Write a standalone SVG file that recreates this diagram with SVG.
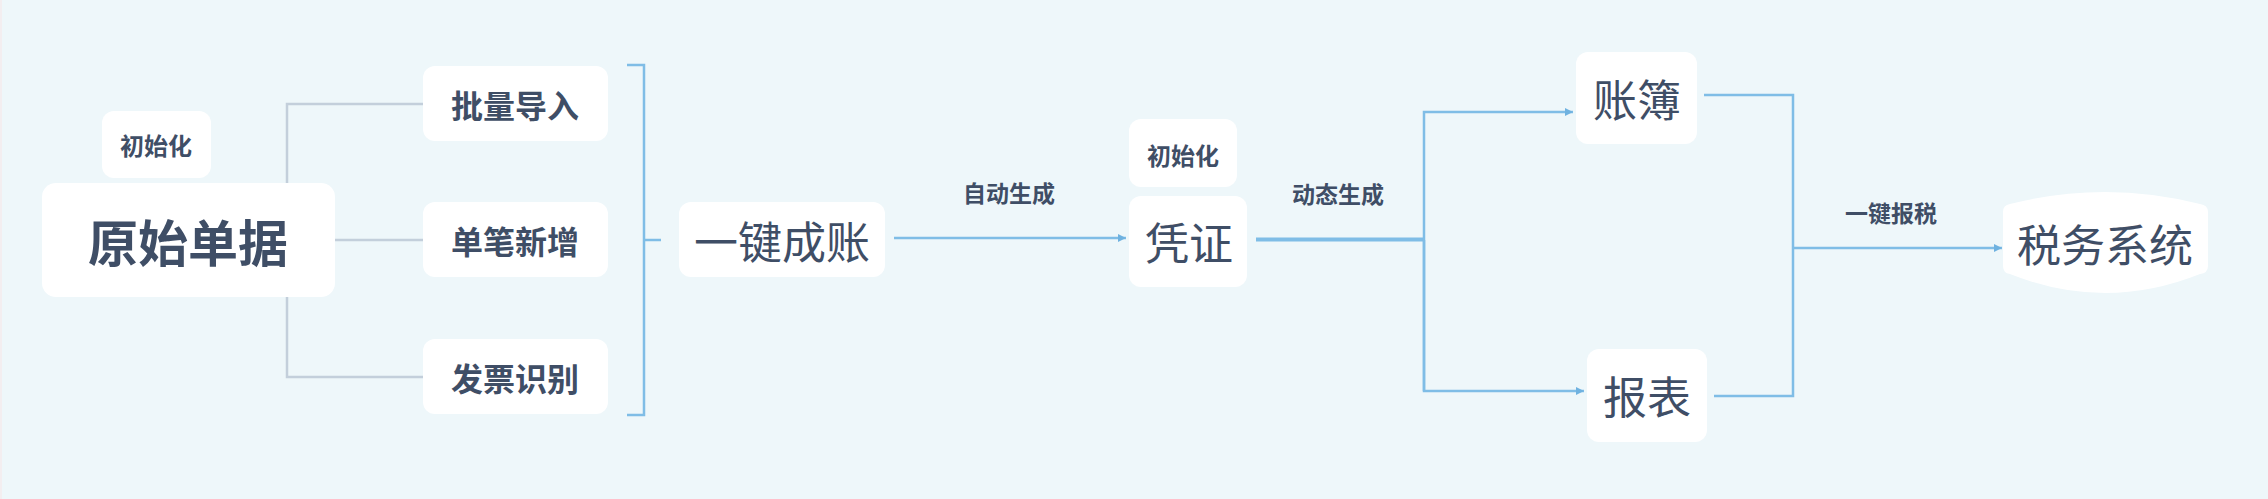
<svg xmlns="http://www.w3.org/2000/svg" width="2268" height="499" viewBox="0 0 2268 499">
<defs>
<style>
.node{fill:#ffffff;}
.t{font-family:"Noto Sans CJK SC","Noto Sans",sans-serif;fill:#3f4e66;text-anchor:middle;dominant-baseline:central;}
.b{font-weight:bold;}
.gray{fill:none;stroke:#c3cfdb;stroke-width:2.5;}
.blue{fill:none;stroke:#7fbde6;stroke-width:2.5;}
.thick{fill:none;stroke:#7fbde6;stroke-width:4;}
</style>
<marker id="arr" markerUnits="userSpaceOnUse" markerWidth="10" markerHeight="10" refX="9" refY="5" orient="auto">
<path d="M1,1 L9,5 L1,9 Z" fill="#6fb2e0"/>
</marker>
</defs>
<rect x="0" y="0" width="2268" height="499" fill="#eef7fa"/>
<rect x="0" y="0" width="2" height="499" fill="#f3eef0"/>
<g id="connectors">
<path class="gray" d="M287,183 V104 H423"/>
<path class="gray" d="M335,240 H423"/>
<path class="gray" d="M287,297 V377 H423"/>
<path class="blue" d="M627,65 H644 V415 H627"/>
<path class="blue" d="M644,240 H661"/>
<path class="blue" d="M894,238 H1126" marker-end="url(#arr)"/>
<path class="thick" d="M1256,239.5 H1424"/>
<path class="blue" d="M1424,391 V112 H1573" marker-end="url(#arr)"/>
<path class="blue" d="M1424,240 V391 H1584" marker-end="url(#arr)"/>
<path class="blue" d="M1704,95 H1793 V396 H1714"/>
<path class="blue" d="M1793,248 H2002" marker-end="url(#arr)"/>
</g>
<g id="label-auto"><text class="t b" x="1009" y="192" font-size="23">自动生成</text></g>
<g id="label-dynamic"><text class="t b" x="1338" y="193" font-size="23">动态生成</text></g>
<g id="label-tax"><text class="t b" x="1891" y="212" font-size="23">一键报税</text></g>
<g id="node-init1">
<rect class="node" x="102" y="111" width="109" height="67" rx="12"/>
<text class="t b" x="156" y="144" font-size="24">初始化</text>
</g>
<g id="node-source">
<rect class="node" x="42" y="183" width="293" height="114" rx="14"/>
<text class="t b" x="188" y="240" font-size="50">原始单据</text>
</g>
<g id="node-batch">
<rect class="node" x="423" y="66" width="185" height="75" rx="12"/>
<text class="t b" x="515" y="104" font-size="32">批量导入</text>
</g>
<g id="node-single">
<rect class="node" x="423" y="202" width="185" height="75" rx="12"/>
<text class="t b" x="515" y="240" font-size="32">单笔新增</text>
</g>
<g id="node-invoice">
<rect class="node" x="423" y="339" width="185" height="75" rx="12"/>
<text class="t b" x="515" y="377" font-size="32">发票识别</text>
</g>
<g id="node-onekey">
<rect class="node" x="679" y="202" width="206" height="75" rx="12"/>
<text class="t" x="782" y="240" font-size="44">一键成账</text>
</g>
<g id="node-init2">
<rect class="node" x="1129" y="119" width="108" height="68" rx="12"/>
<text class="t b" x="1183" y="154" font-size="24">初始化</text>
</g>
<g id="node-voucher">
<rect class="node" x="1129" y="196" width="118" height="91" rx="12"/>
<text class="t" x="1189" y="241" font-size="44">凭证</text>
</g>
<g id="node-ledger">
<rect class="node" x="1576" y="52" width="121" height="92" rx="12"/>
<text class="t" x="1637" y="98" font-size="44">账簿</text>
</g>
<g id="node-report">
<rect class="node" x="1587" y="349" width="120" height="93" rx="12"/>
<text class="t" x="1647" y="395" font-size="44">报表</text>
</g>
<g id="node-taxsys">
<path class="node" d="M2003,212 Q2003,205 2010,204 Q2105,180 2200,204 Q2208,205 2208,212 V266 Q2208,273 2200,274 Q2105,312 2010,274 Q2003,273 2003,266 Z"/>
<text class="t" x="2105" y="243" font-size="44">税务系统</text>
</g>
</svg>
